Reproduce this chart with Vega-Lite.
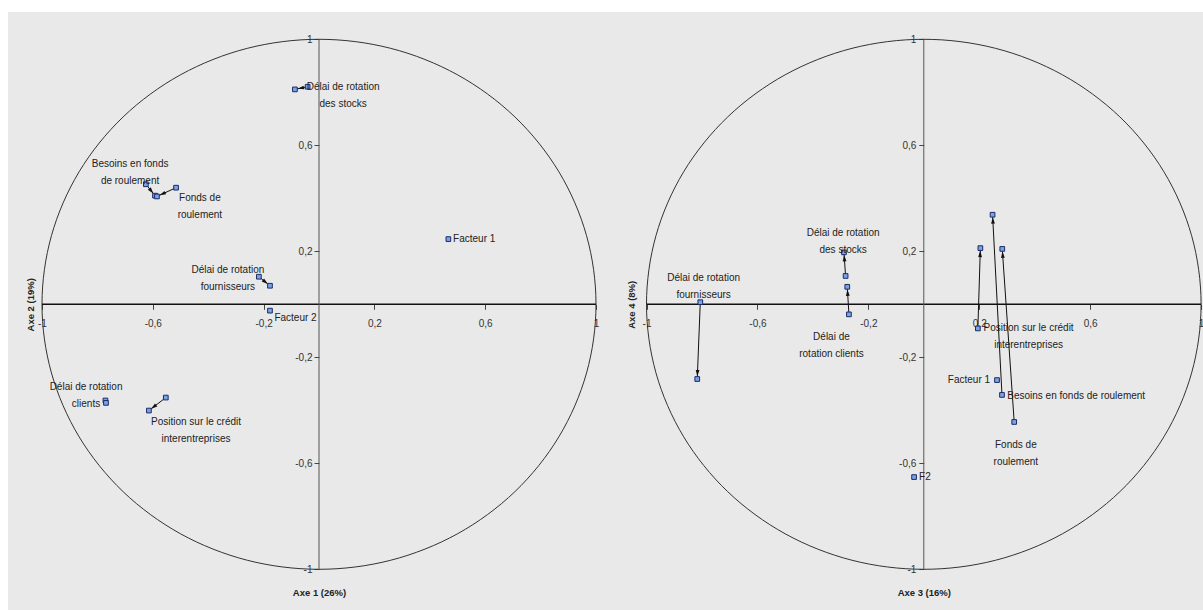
{
  "$schema": "https://vega.github.io/schema/vega-lite/v6.json",
  "background": "white",
  "padding": {"left": 8, "top": 12, "right": 0, "bottom": 0},
  "autosize": {"type": "pad"},
  "bounds": "flush",
  "spacing": 0,
  "config": {
    "view": {"stroke": null, "fill": "#e9e9e9"},
    "text": {"font": "Liberation Sans, Arial, sans-serif"},
    "axis": {
      "domain": false,
      "grid": false,
      "ticks": true,
      "tickColor": "#444",
      "tickSize": 5,
      "labelFont": "Liberation Sans, Arial, sans-serif",
      "labelFontSize": 10,
      "labelColor": "#333",
      "labelOverlap": false,
      "labelFlush": false,
      "titleFont": "Liberation Sans, Arial, sans-serif",
      "titleFontSize": 9.5,
      "titleFontWeight": "bold",
      "titleColor": "#222"
    }
  },
  "datasets": {
    "circle": [
      {"i": 0, "cx": 1, "cy": 0},
      {"i": 1, "cx": 0.9659, "cy": 0.2588},
      {"i": 2, "cx": 0.866, "cy": 0.5},
      {"i": 3, "cx": 0.7071, "cy": 0.7071},
      {"i": 4, "cx": 0.5, "cy": 0.866},
      {"i": 5, "cx": 0.2588, "cy": 0.9659},
      {"i": 6, "cx": 0, "cy": 1},
      {"i": 7, "cx": -0.2588, "cy": 0.9659},
      {"i": 8, "cx": -0.5, "cy": 0.866},
      {"i": 9, "cx": -0.7071, "cy": 0.7071},
      {"i": 10, "cx": -0.866, "cy": 0.5},
      {"i": 11, "cx": -0.9659, "cy": 0.2588},
      {"i": 12, "cx": -1, "cy": 0},
      {"i": 13, "cx": -0.9659, "cy": -0.2588},
      {"i": 14, "cx": -0.866, "cy": -0.5},
      {"i": 15, "cx": -0.7071, "cy": -0.7071},
      {"i": 16, "cx": -0.5, "cy": -0.866},
      {"i": 17, "cx": -0.2588, "cy": -0.9659},
      {"i": 18, "cx": 0, "cy": -1},
      {"i": 19, "cx": 0.2588, "cy": -0.9659},
      {"i": 20, "cx": 0.5, "cy": -0.866},
      {"i": 21, "cx": 0.7071, "cy": -0.7071},
      {"i": 22, "cx": 0.866, "cy": -0.5},
      {"i": 23, "cx": 0.9659, "cy": -0.2588}
    ],
    "pts1": [
      {"var": "Délai de rotation des stocks", "x": -0.041, "y": 0.821},
      {"var": "Délai de rotation des stocks", "x": -0.087, "y": 0.811},
      {"var": "Facteur 1", "x": 0.467, "y": 0.246},
      {"var": "Facteur 2", "x": -0.177, "y": -0.024},
      {"var": "Délai de rotation fournisseurs", "x": -0.217, "y": 0.104},
      {"var": "Délai de rotation fournisseurs", "x": -0.177, "y": 0.07},
      {"var": "Besoins en fonds de roulement", "x": -0.625, "y": 0.453},
      {"var": "Besoins en fonds de roulement", "x": -0.592, "y": 0.41},
      {"var": "Fonds de roulement", "x": -0.516, "y": 0.44},
      {"var": "Fonds de roulement", "x": -0.585, "y": 0.407},
      {"var": "Délai de rotation clients", "x": -0.771, "y": -0.363},
      {"var": "Délai de rotation clients", "x": -0.769, "y": -0.372},
      {"var": "Position sur le crédit interentreprises", "x": -0.553, "y": -0.352},
      {"var": "Position sur le crédit interentreprises", "x": -0.614, "y": -0.401}
    ],
    "arr1": [
      {"var": "Délai de rotation des stocks", "x": -0.041, "y": 0.821, "x2": -0.087, "y2": 0.811},
      {"var": "Délai de rotation fournisseurs", "x": -0.217, "y": 0.104, "x2": -0.177, "y2": 0.07},
      {"var": "Besoins en fonds de roulement", "x": -0.625, "y": 0.453, "x2": -0.592, "y2": 0.41},
      {"var": "Fonds de roulement", "x": -0.516, "y": 0.44, "x2": -0.585, "y2": 0.407},
      {"var": "Position sur le crédit interentreprises", "x": -0.553, "y": -0.352, "x2": -0.614, "y2": -0.401}
    ],
    "lab1": [
      {"var": "Délai de rotation des stocks", "lx": 0.087, "ly": 0.819, "label": "Délai de rotation\ndes stocks"},
      {"var": "Facteur 1", "lx": 0.484, "ly": 0.246, "label": "Facteur 1"},
      {"var": "Facteur 2", "lx": -0.161, "ly": -0.051, "label": "Facteur 2"},
      {"var": "Délai de rotation fournisseurs", "lx": -0.329, "ly": 0.128, "label": "Délai de rotation\nfournisseurs"},
      {"var": "Besoins en fonds de roulement", "lx": -0.682, "ly": 0.529, "label": "Besoins en fonds\nde roulement"},
      {"var": "Fonds de roulement", "lx": -0.43, "ly": 0.4, "label": "Fonds de\nroulement"},
      {"var": "Délai de rotation clients", "lx": -0.841, "ly": -0.311, "label": "Délai de rotation\nclients"},
      {"var": "Position sur le crédit interentreprises", "lx": -0.444, "ly": -0.443, "label": "Position sur le crédit\ninterentreprises"}
    ],
    "pts2": [
      {"var": "Délai de rotation fournisseurs", "x": -0.806, "y": 0.008},
      {"var": "Délai de rotation fournisseurs", "x": -0.817, "y": -0.282},
      {"var": "Délai de rotation des stocks", "x": -0.282, "y": 0.107},
      {"var": "Délai de rotation des stocks", "x": -0.288, "y": 0.196},
      {"var": "Délai de rotation clients", "x": -0.27, "y": -0.038},
      {"var": "Délai de rotation clients", "x": -0.276, "y": 0.066},
      {"var": "Position sur le crédit interentreprises", "x": 0.195, "y": -0.091},
      {"var": "Position sur le crédit interentreprises", "x": 0.204, "y": 0.212},
      {"var": "Besoins en fonds de roulement", "x": 0.282, "y": -0.342},
      {"var": "Besoins en fonds de roulement", "x": 0.248, "y": 0.338},
      {"var": "Fonds de roulement", "x": 0.326, "y": -0.444},
      {"var": "Fonds de roulement", "x": 0.283, "y": 0.209},
      {"var": "Facteur 1", "x": 0.264, "y": -0.286},
      {"var": "Facteur 2", "x": -0.035, "y": -0.652}
    ],
    "arr2": [
      {"var": "Délai de rotation fournisseurs", "x": -0.806, "y": 0.008, "x2": -0.817, "y2": -0.282},
      {"var": "Délai de rotation des stocks", "x": -0.282, "y": 0.107, "x2": -0.288, "y2": 0.196},
      {"var": "Délai de rotation clients", "x": -0.27, "y": -0.038, "x2": -0.276, "y2": 0.066},
      {"var": "Position sur le crédit interentreprises", "x": 0.195, "y": -0.091, "x2": 0.204, "y2": 0.212},
      {"var": "Besoins en fonds de roulement", "x": 0.282, "y": -0.342, "x2": 0.248, "y2": 0.338},
      {"var": "Fonds de roulement", "x": 0.326, "y": -0.444, "x2": 0.283, "y2": 0.209}
    ],
    "lab2": [
      {"var": "Délai de rotation fournisseurs", "lx": -0.794, "ly": 0.099, "label": "Délai de rotation\nfournisseurs"},
      {"var": "Délai de rotation des stocks", "lx": -0.291, "ly": 0.269, "label": "Délai de rotation\ndes stocks"},
      {"var": "Délai de rotation clients", "lx": -0.333, "ly": -0.123, "label": "Délai de\nrotation clients"},
      {"var": "Position sur le crédit interentreprises", "lx": 0.378, "ly": -0.088, "label": "Position sur le crédit\ninterentreprises"},
      {"var": "Facteur 1", "lx": 0.239, "ly": -0.286, "label": "Facteur 1"},
      {"var": "Besoins en fonds de roulement", "lx": 0.301, "ly": -0.346, "label": "Besoins en fonds de roulement"},
      {"var": "Fonds de roulement", "lx": 0.332, "ly": -0.53, "label": "Fonds de\nroulement"},
      {"var": "Facteur 2", "lx": -0.017, "ly": -0.652, "label": "F2"}
    ]
  },
  "hconcat": [
    {
      "width": 592,
      "height": 598,
      "layer": [
        {
          "data": {"name": "circle"},
          "mark": {"type": "line", "interpolate": "cardinal-closed", "stroke": "#333", "strokeWidth": 1},
          "encoding": {
            "x": {"field": "cx", "type": "quantitative", "scale": {"domain": [-1.1227, 1.0144], "nice": false, "zero": false},
              "axis": {"orient": "bottom", "offset": -305.7, "values": [-1, -0.6, -0.2, 0.2, 0.6, 1],
                "labelExpr": "(datum.value < 0 ? '-' : '') + replace(format(abs(datum.value), '.1~f'), '.', ',')",
                "labelPadding": 9, "title": "Axe 1 (26%)", "titleX": 311, "titleY": 288, "titleBaseline": "middle", "titleAlign": "center"}},
            "y": {"field": "cy", "type": "quantitative", "scale": {"domain": [-1.1536, 1.103], "nice": false, "zero": false},
              "axis": {"orient": "left", "offset": -311, "values": [-1, -0.6, -0.2, 0.2, 0.6, 1],
                "labelExpr": "(datum.value < 0 ? '-' : '') + replace(format(abs(datum.value), '.1~f'), '.', ',')",
                "labelPadding": 2, "title": "Axe 2 (19%)", "titleX": -288.5, "titleY": 292.3, "titleAngle": -90, "titleBaseline": "middle", "titleAlign": "center"}},
            "order": {"field": "i", "type": "quantitative"}
          }
        },
        {
          "data": {"values": [{}]},
          "mark": {"type": "rule", "stroke": "#111", "strokeWidth": 1.5},
          "encoding": {"x": {"datum": -1, "type": "quantitative"}, "x2": {"datum": 1}, "y": {"datum": 0, "type": "quantitative"}}
        },
        {
          "data": {"values": [{}]},
          "mark": {"type": "rule", "stroke": "#555", "strokeWidth": 1},
          "encoding": {"y": {"datum": -1, "type": "quantitative"}, "y2": {"datum": 1}, "x": {"datum": 0, "type": "quantitative"}}
        },
        {
          "data": {"name": "arr1"},
          "mark": {"type": "rule", "stroke": "#111", "strokeWidth": 1},
          "encoding": {
            "x": {"field": "x", "type": "quantitative"}, "y": {"field": "y", "type": "quantitative"},
            "x2": {"field": "x2"}, "y2": {"field": "y2"}
          }
        },
        {
          "data": {"name": "arr1"},
          "transform": [
            {"calculate": "sqrt(pow(datum.x2 - datum.x, 2) + pow(datum.y2 - datum.y, 2))", "as": "len"},
            {"calculate": "datum.x2 - 0.022 * (datum.x2 - datum.x) / datum.len", "as": "ax"},
            {"calculate": "datum.y2 - 0.022 * (datum.y2 - datum.y) / datum.len", "as": "ay"},
            {"calculate": "atan2(datum.x2 - datum.x, 0.957 * (datum.y2 - datum.y)) * 180 / PI", "as": "ang"}
          ],
          "mark": {"type": "point", "shape": "M0,-1L0.6,1L-0.6,1Z", "filled": true, "fill": "#111", "size": 40, "opacity": 1},
          "encoding": {
            "x": {"field": "ax", "type": "quantitative"}, "y": {"field": "ay", "type": "quantitative"},
            "angle": {"field": "ang", "type": "quantitative", "scale": null}
          }
        },
        {
          "data": {"name": "pts1"},
          "mark": {"type": "point", "shape": "square", "filled": true, "fill": "#78a4e6", "stroke": "#1b2b66", "strokeWidth": 1, "size": 22, "opacity": 1},
          "encoding": {"x": {"field": "x", "type": "quantitative"}, "y": {"field": "y", "type": "quantitative"}}
        },
        {
          "data": {"name": "lab1"},
          "transform": [{"filter": "indexof(['Facteur 1', 'Facteur 2'], datum.var) < 0"}],
          "mark": {"type": "text", "align": "center", "baseline": "middle", "lineBreak": "\n", "lineHeight": 17, "fontSize": 10, "fill": "#222"},
          "encoding": {"x": {"field": "lx", "type": "quantitative"}, "y": {"field": "ly", "type": "quantitative"}, "text": {"field": "label"}}
        },
        {
          "data": {"name": "lab1"},
          "transform": [{"filter": "indexof(['Facteur 1', 'Facteur 2'], datum.var) >= 0"}],
          "mark": {"type": "text", "align": "left", "baseline": "middle", "fontSize": 10, "fill": "#222"},
          "encoding": {"x": {"field": "lx", "type": "quantitative"}, "y": {"field": "ly", "type": "quantitative"}, "text": {"field": "label"}}
        }
      ]
    },
    {
      "width": 603,
      "height": 598,
      "layer": [
        {
          "data": {"name": "circle"},
          "mark": {"type": "line", "interpolate": "cardinal-closed", "stroke": "#333", "strokeWidth": 1},
          "encoding": {
            "x": {"field": "cx", "type": "quantitative", "scale": {"domain": [-1.1677, 1.0069], "nice": false, "zero": false},
              "axis": {"orient": "bottom", "offset": -305.7, "values": [-1, -0.6, -0.2, 0.2, 0.6, 1],
                "labelExpr": "(datum.value < 0 ? '-' : '') + replace(format(abs(datum.value), '.1~f'), '.', ',')",
                "labelPadding": 9, "title": "Axe 3 (16%)", "titleX": 323.8, "titleY": 288, "titleBaseline": "middle", "titleAlign": "center"}},
            "y": {"field": "cy", "type": "quantitative", "scale": {"domain": [-1.1536, 1.103], "nice": false, "zero": false},
              "axis": {"orient": "left", "offset": -323.8, "values": [-1, -0.6, -0.2, 0.2, 0.6, 1],
                "labelExpr": "(datum.value < 0 ? '-' : '') + replace(format(abs(datum.value), '.1~f'), '.', ',')",
                "labelPadding": 3, "title": "Axe 4 (8%)", "titleX": -292.5, "titleY": 292.3, "titleAngle": -90, "titleBaseline": "middle", "titleAlign": "center"}},
            "order": {"field": "i", "type": "quantitative"}
          }
        },
        {
          "data": {"values": [{}]},
          "mark": {"type": "rule", "stroke": "#111", "strokeWidth": 1.5},
          "encoding": {"x": {"datum": -1, "type": "quantitative"}, "x2": {"datum": 1}, "y": {"datum": 0, "type": "quantitative"}}
        },
        {
          "data": {"values": [{}]},
          "mark": {"type": "rule", "stroke": "#555", "strokeWidth": 1},
          "encoding": {"y": {"datum": -1, "type": "quantitative"}, "y2": {"datum": 1}, "x": {"datum": 0, "type": "quantitative"}}
        },
        {
          "data": {"name": "arr2"},
          "mark": {"type": "rule", "stroke": "#111", "strokeWidth": 1},
          "encoding": {
            "x": {"field": "x", "type": "quantitative"}, "y": {"field": "y", "type": "quantitative"},
            "x2": {"field": "x2"}, "y2": {"field": "y2"}
          }
        },
        {
          "data": {"name": "arr2"},
          "transform": [
            {"calculate": "sqrt(pow(datum.x2 - datum.x, 2) + pow(datum.y2 - datum.y, 2))", "as": "len"},
            {"calculate": "datum.x2 - 0.022 * (datum.x2 - datum.x) / datum.len", "as": "ax"},
            {"calculate": "datum.y2 - 0.022 * (datum.y2 - datum.y) / datum.len", "as": "ay"},
            {"calculate": "atan2(datum.x2 - datum.x, 0.957 * (datum.y2 - datum.y)) * 180 / PI", "as": "ang"}
          ],
          "mark": {"type": "point", "shape": "M0,-1L0.6,1L-0.6,1Z", "filled": true, "fill": "#111", "size": 40, "opacity": 1},
          "encoding": {
            "x": {"field": "ax", "type": "quantitative"}, "y": {"field": "ay", "type": "quantitative"},
            "angle": {"field": "ang", "type": "quantitative", "scale": null}
          }
        },
        {
          "data": {"name": "pts2"},
          "mark": {"type": "point", "shape": "square", "filled": true, "fill": "#78a4e6", "stroke": "#1b2b66", "strokeWidth": 1, "size": 22, "opacity": 1},
          "encoding": {"x": {"field": "x", "type": "quantitative"}, "y": {"field": "y", "type": "quantitative"}}
        },
        {
          "data": {"name": "lab2"},
          "transform": [{"filter": "indexof(['Facteur 1', 'Facteur 2', 'Besoins en fonds de roulement'], datum.var) < 0"}],
          "mark": {"type": "text", "align": "center", "baseline": "middle", "lineBreak": "\n", "lineHeight": 17, "fontSize": 10, "fill": "#222"},
          "encoding": {"x": {"field": "lx", "type": "quantitative"}, "y": {"field": "ly", "type": "quantitative"}, "text": {"field": "label"}}
        },
        {
          "data": {"name": "lab2"},
          "transform": [{"filter": "indexof(['Facteur 2', 'Besoins en fonds de roulement'], datum.var) >= 0"}],
          "mark": {"type": "text", "align": "left", "baseline": "middle", "fontSize": 10, "fill": "#222"},
          "encoding": {"x": {"field": "lx", "type": "quantitative"}, "y": {"field": "ly", "type": "quantitative"}, "text": {"field": "label"}}
        },
        {
          "data": {"name": "lab2"},
          "transform": [{"filter": "datum.var == 'Facteur 1'"}],
          "mark": {"type": "text", "align": "right", "baseline": "middle", "fontSize": 10, "fill": "#222"},
          "encoding": {"x": {"field": "lx", "type": "quantitative"}, "y": {"field": "ly", "type": "quantitative"}, "text": {"field": "label"}}
        }
      ]
    }
  ]
}
